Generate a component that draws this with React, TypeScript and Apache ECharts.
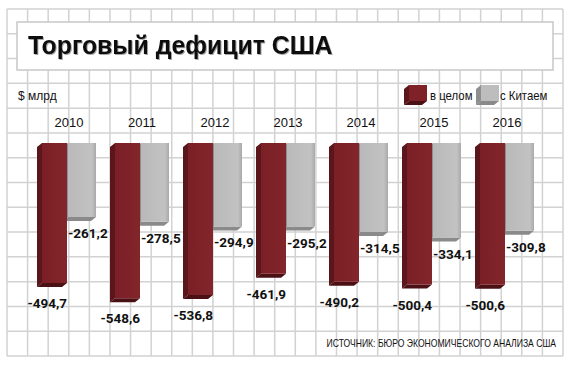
import React, { useEffect, useRef } from "react";
import * as echarts from "echarts";

const years = ["2010", "2011", "2012", "2013", "2014", "2015", "2016"];
const totalDeficit = [-494.7, -548.6, -536.8, -461.9, -490.2, -500.4, -500.6];
const chinaDeficit = [-261.2, -278.5, -294.9, -295.2, -314.5, -334.1, -309.8];
const titleText = "Торговый дефицит США";
const unitText = "$ млрд";
const legendNames = ["в целом", "с Китаем"];
const sourceText = "ИСТОЧНИК: БЮРО ЭКОНОМИЧЕСКОГО АНАЛИЗА США";

const fmt = (v: number) => v.toFixed(1).replace(".", ",");

const W = 570;
const H = 365;

function makeRenderer(kind: "total" | "china") {
  return (params: any, api: any) => {
    const idx = api.value(0);
    const val = api.value(1);
    const top = api.coord([idx, 0]);
    const bot = api.coord([idx, val]);
    const cx = top[0];
    const y0 = top[1];
    const y1 = bot[1];
    const dx = 5;
    const dy = 4;
    let x0: number, x1: number;
    let side: string, bottom: string;
    if (kind === "total") {
      x0 = cx - 27;
      x1 = cx - 2;
      side = "#5a161a";
      bottom = "#4a1014";
    } else {
      x0 = cx - 1;
      x1 = cx + 27;
      side = "#8e8e8e";
      bottom = "#8a8a8a";
    }
    const children: any[] = [];
    children.push({
      type: "polygon",
      shape: { points: [[x0, y0], [x0 - dx, y0 + dy], [x0 - dx, y1 + dy], [x0, y1]] },
      style: { fill: side },
    });
    children.push({
      type: "polygon",
      shape: { points: [[x0, y1], [x1, y1], [x1 - dx, y1 + dy], [x0 - dx, y1 + dy]] },
      style: { fill: bottom },
    });
    children.push({
      type: "rect",
      shape: { x: x0, y: y0, width: x1 - x0, height: y1 - y0 },
      style: {
        fill:
          kind === "total"
            ? new echarts.graphic.LinearGradient(0, 0, 1, 0, [
                { offset: 0, color: "#7a1f25" },
                { offset: 1, color: "#82262c" },
              ])
            : new echarts.graphic.LinearGradient(0, 0, 1, 0, [
                { offset: 0, color: "#b9b9b9" },
                { offset: 0.85, color: "#c2c2c2" },
                { offset: 1, color: "#a9a9a9" },
              ]),
      },
    });
    children.push({
      type: "text",
      style: {
        text: fmt(val),
        x: kind === "total" ? x1 : x0,
        y: y1 + (kind === "total" ? 20 : 16),
        align: kind === "total" ? "right" : "left",
        verticalAlign: "middle",
        fontFamily: "Roboto",
        fontWeight: "bold",
        fontSize: 13.5,
        fill: "#111111",
      },
    });
    return { type: "group", children };
  };
}

export default function App() {
  const ref = useRef<HTMLDivElement>(null);
  useEffect(() => {
    document.body.style.margin = "0";
    if (!ref.current) return;
    const chart = echarts.init(ref.current, null, { renderer: "svg" });

    const gridColor = "#d2d2d2";
    const bg: any[] = [];
    const left = 7;
    const right = 563;
    const topY = 9;
    const bottomY = 356;
    const nCols = 27;
    const nRows = 14;
    for (let i = 0; i <= nCols; i++) {
      const x = left + ((right - left) * i) / nCols;
      bg.push({
        type: "line",
        z: -10,
        shape: { x1: x, y1: topY, x2: x, y2: bottomY },
        style: { stroke: gridColor, lineWidth: 1.5 },
        silent: true,
      });
    }
    for (let j = 0; j <= nRows; j++) {
      const y = topY + ((bottomY - topY) * j) / nRows;
      bg.push({
        type: "line",
        z: -10,
        shape: { x1: left, y1: y, x2: right, y2: y },
        style: { stroke: gridColor, lineWidth: 1.5 },
        silent: true,
      });
    }

    const legendIcon = (x: number, y: number, front: string, side: string, bottom: string) => ({
      type: "group",
      z: 10,
      children: [
        {
          type: "polygon",
          shape: { points: [[x + 5, y], [x, y + 4], [x, y + 20], [x + 5, y + 16]] },
          style: { fill: side },
        },
        {
          type: "polygon",
          shape: { points: [[x + 5, y + 16], [x + 23, y + 16], [x + 18, y + 20], [x, y + 20]] },
          style: { fill: bottom },
        },
        {
          type: "rect",
          shape: { x: x + 5, y: y, width: 18, height: 16 },
          style: { fill: front },
        },
      ],
    });

    const option: any = {
      animation: false,
      backgroundColor: "#ffffff",
      grid: { left: 32.5, right: 26.5, top: 143, bottom: 52.2, containLabel: false },
      xAxis: {
        type: "category",
        data: years,
        position: "top",
        axisLine: { show: false },
        axisTick: { show: false },
        axisLabel: {
          show: true,
          margin: 14,
          fontFamily: "Liberation Sans",
          fontSize: 13,
          color: "#111111",
        },
        splitLine: { show: false },
      },
      yAxis: {
        type: "value",
        min: -600,
        max: 0,
        show: false,
      },
      series: [
        {
          name: legendNames[1],
          type: "custom",
          renderItem: makeRenderer("china"),
          data: chinaDeficit.map((v, i) => [i, v]),
          encode: { x: 0, y: 1 },
          z: 2,
        },
        {
          name: legendNames[0],
          type: "custom",
          renderItem: makeRenderer("total"),
          data: totalDeficit.map((v, i) => [i, v]),
          encode: { x: 0, y: 1 },
          z: 3,
        },
      ],
      graphic: [
        ...bg,
        {
          type: "rect",
          z: 5,
          shape: { x: 17, y: 22, width: 536, height: 48 },
          style: { fill: "#ffffff", stroke: "#c8c8c8", lineWidth: 1.5 },
        },
        {
          type: "text",
          z: 6,
          x: 28,
          y: 45,
          scaleX: 0.955,
          style: {
            text: titleText,
            x: 0,
            y: 0,
            verticalAlign: "middle",
            fontFamily: "Liberation Sans",
            fontWeight: 900,
            fontSize: 26,
            fill: "#111111",
            textShadowColor: "rgba(0,0,0,0.35)",
            textShadowBlur: 1,
            textShadowOffsetX: 1,
            textShadowOffsetY: 1,
          },
        },
        {
          type: "text",
          z: 6,
          style: {
            text: unitText,
            x: 18,
            y: 96,
            verticalAlign: "middle",
            fontFamily: "Liberation Sans",
            fontSize: 12,
            fill: "#111111",
          },
        },
        legendIcon(404, 85, "#7e2228", "#5a161a", "#4a1014"),
        {
          type: "text",
          z: 10,
          x: 430,
          y: 95,
          scaleX: 0.95,
          style: {
            text: legendNames[0],
            x: 0,
            y: 0,
            verticalAlign: "middle",
            fontFamily: "Liberation Sans",
            fontSize: 12,
            fill: "#111111",
          },
        },
        legendIcon(476, 85, "#bdbdbd", "#8e8e8e", "#8a8a8a"),
        {
          type: "text",
          z: 10,
          x: 500,
          y: 95,
          scaleX: 0.95,
          style: {
            text: legendNames[1],
            x: 0,
            y: 0,
            verticalAlign: "middle",
            fontFamily: "Liberation Sans",
            fontSize: 12,
            fill: "#111111",
          },
        },
        {
          type: "text",
          z: 10,
          x: 556,
          y: 344,
          scaleX: 0.86,
          style: {
            text: sourceText,
            x: 0,
            y: 0,
            align: "right",
            verticalAlign: "middle",
            fontFamily: "Liberation Sans",
            fontSize: 10,
            fill: "#111111",
          },
        },
      ],
    };
    chart.setOption(option);
    return () => chart.dispose();
  }, []);
  return <div ref={ref} style={{ width: W, height: H }} />;
}
